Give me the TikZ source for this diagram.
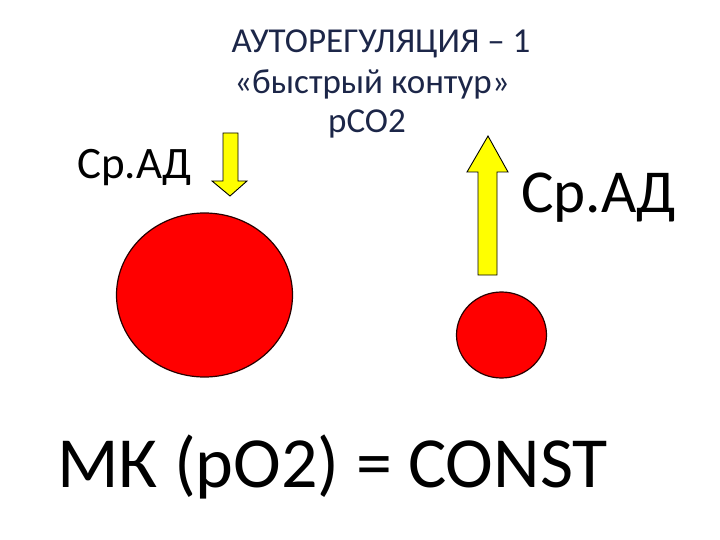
\documentclass[tikz,border=0pt]{standalone}
\usepackage{fontspec}
\setmainfont{Carlito}
\usepackage{tikz}

\definecolor{titleblue}{RGB}{28,38,72}
\definecolor{arrowyellow}{RGB}{255,255,0}

\tikzset{
  vessel/.style   = {draw=black!85!red, line width=1.2pt, fill=red},
  flowarrow/.style= {draw=black, line width=0.9pt, fill=arrowyellow, line join=miter},
  headline/.style = {text=titleblue, anchor=base, inner sep=0pt, font=\fontsize{35}{40}\selectfont},
  label/.style    = {text=black, anchor=base west, inner sep=0pt}
}

\begin{document}
\begin{tikzpicture}[x=1pt,y=-1pt]
  \useasboundingbox (0,0) rectangle (720,540);

  % heading
  \node[headline] (title) at (381,53) {АУТОРЕГУЛЯЦИЯ -- 1};
  \node[headline] (contour) at (372,94) {«быстрый контур»};
  \node[headline] (pco) at (367,133) {рCO2};

  % mean arterial pressure labels
  \node[label, font=\fontsize{45}{50}\selectfont] (madleft) at (77,179) {Ср.АД};
  \node[label, font=\fontsize{61}{70}\selectfont] (madright) at (521,213) {Ср.АД};

  % arrows
  \draw[flowarrow] (223,133) -- (238,133) -- (238,181) -- (247,181)
    -- (230,196) -- (212,181) -- (223,181) -- cycle;
  \draw[flowarrow] (478,275) -- (478,172) -- (467,172) -- (488,136)
    -- (508,172) -- (497,172) -- (497,275) -- cycle;

  % vessels
  \draw[vessel] (204.5,295) ellipse [x radius=88, y radius=82];
  \draw[vessel] (501.5,335) ellipse [x radius=45, y radius=43];

  % result
  \node[label, font=\fontsize{72}{80}\selectfont] (result) at (57,487) {МК (pO2) = CONST};
\end{tikzpicture}
\end{document}
